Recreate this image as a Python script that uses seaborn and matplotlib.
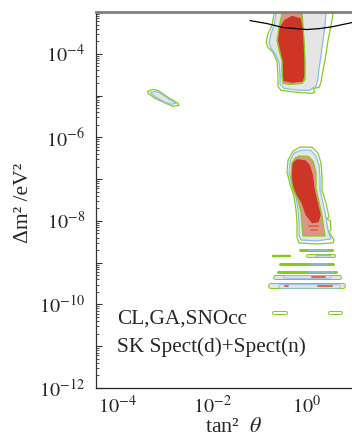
import numpy as np
import matplotlib
matplotlib.use("Agg")
import matplotlib.pyplot as plt
import seaborn as sns
from matplotlib.ticker import LogLocator, FuncFormatter, NullFormatter

# contour vertices: (log10 tan^2 theta, log10 dm^2/eV^2)
# LMA region (cut by the upper frame)
lma_green_out = [(-0.674, -2.85), (-0.695, -3.038), (-0.737, -3.325), (-0.821, -3.516),
                 (-0.863, -3.73), (-0.821, -3.85), (-0.716, -3.969), (-0.632, -4.184),
                 (-0.611, -4.518), (-0.611, -4.78), (-0.547, -4.876), (-0.189, -4.924),
                 (0.105, -4.947), (0.168, -4.924), (0.126, -4.828), (0.253, -4.804),
                 (0.295, -4.685), (0.316, -4.518), (0.379, -4.16), (0.442, -3.683),
                 (0.505, -3.325), (0.547, -3.038), (0.568, -2.85)]
lma_blue = [(-0.632, -2.85), (-0.653, -3.038), (-0.695, -3.325), (-0.758, -3.516),
            (-0.8, -3.73), (-0.758, -3.873), (-0.674, -3.993), (-0.589, -4.208),
            (-0.568, -4.518), (-0.568, -4.733), (-0.484, -4.828), (-0.147, -4.876),
            (0.063, -4.876), (0.105, -4.828), (0.189, -4.78), (0.232, -4.59),
            (0.253, -4.351), (0.295, -4.041), (0.337, -3.683), (0.379, -3.325),
            (0.4, -3.038), (0.421, -2.85)]
lma_green_in = [(-0.505, -2.85), (-0.526, -3.038), (-0.589, -3.372), (-0.632, -3.683),
                (-0.589, -3.921), (-0.526, -4.16), (-0.526, -4.518), (-0.505, -4.709),
                (-0.358, -4.733), (-0.105, -4.709), (-0.042, -4.614), (-0.042, -4.16),
                (-0.063, -3.683), (-0.084, -3.325), (-0.105, -3.038), (-0.105, -2.85)]
lma_red = [(-0.316, -3.09), (-0.48, -3.19), (-0.585, -3.39), (-0.61, -3.683),
           (-0.565, -3.921), (-0.515, -4.208), (-0.5, -4.65), (-0.316, -4.695),
           (-0.09, -4.665), (-0.05, -4.518), (-0.05, -3.921), (-0.07, -3.444),
           (-0.13, -3.15)]

# SMA island
sma_green_out = [(-3.347, -4.9), (-3.242, -4.852), (-3.137, -4.876), (-2.926, -5.043),
                 (-2.716, -5.186), (-2.695, -5.234), (-2.821, -5.258), (-2.926, -5.21),
                 (-3.2, -5.067), (-3.347, -4.947)]
sma_blue = [(-3.284, -4.924), (-3.2, -4.9), (-3.116, -4.924), (-2.926, -5.067),
            (-2.758, -5.186), (-2.842, -5.21), (-2.989, -5.162), (-3.179, -5.043),
            (-3.284, -4.947)]

# LOW region
low_green_out = [(-0.147, -6.236), (0.105, -6.236), (0.232, -6.379), (0.295, -6.618),
                 (0.316, -6.952), (0.316, -7.262), (0.4, -7.573), (0.463, -7.907),
                 (0.42, -7.95), (0.49, -8.0), (0.505, -8.217), (0.46, -8.26),
                 (0.568, -8.456), (0.547, -8.528), (0.211, -8.552), (-0.168, -8.528),
                 (-0.211, -8.384), (-0.211, -8.05), (-0.232, -7.74), (-0.274, -7.406),
                 (-0.358, -7.119), (-0.421, -6.833), (-0.4, -6.547), (-0.295, -6.332)]
low_blue = [(-0.126, -6.308), (0.084, -6.308), (0.189, -6.451), (0.253, -6.666),
            (0.274, -6.976), (0.274, -7.262), (0.337, -7.573), (0.4, -7.907),
            (0.442, -8.217), (0.505, -8.432), (0.189, -8.48), (-0.126, -8.456),
            (-0.168, -8.361), (-0.168, -8.05), (-0.189, -7.74), (-0.232, -7.43),
            (-0.316, -7.143), (-0.379, -6.857), (-0.358, -6.571), (-0.274, -6.379)]
low_green_in = [(-0.168, -6.451), (0.021, -6.451), (0.126, -6.57), (0.189, -6.833),
                (0.189, -7.214), (0.253, -7.549), (0.316, -7.883), (0.358, -8.217),
                (0.379, -8.361), (-0.084, -8.361), (-0.105, -8.098), (-0.126, -7.788),
                (-0.189, -7.501), (-0.295, -7.238), (-0.337, -6.928), (-0.316, -6.618),
                (-0.253, -6.499)]
low_red = [(-0.211, -6.52), (-0.03, -6.55), (0.06, -6.66), (0.125, -6.905),
           (0.165, -7.262), (0.225, -7.549), (0.29, -7.859), (0.245, -8.035),
           (0.105, -8.06), (-0.03, -7.859), (-0.115, -7.573), (-0.245, -7.334),
           (-0.31, -7.143), (-0.33, -6.833), (-0.31, -6.618)]

# VAC stripes
stripe_dm2 = [-8.69, -8.84, -8.84, -9.04, -9.23, -9.35, -9.55, -10.2, -10.2]
stripe_green_lo = [-0.147, -0.716, 0.021, -0.568, -0.61, -0.674, -0.758, -0.695, 0.484]
stripe_green_hi = [0.526, -0.358, 0.568, 0.547, 0.61, 0.674, 0.758, -0.44, 0.716]
stripe_blue_lo = [0.021, np.nan, 0.21, 0.063, 0.02, -0.46, -0.57, np.nan, np.nan]
stripe_blue_hi = [0.442, np.nan, 0.484, 0.442, 0.547, 0.48, 0.65, np.nan, np.nan]
red_dm2 = [-9.35, -9.55, -9.55, -8.217, -8.12]
red_lo = [0.105, -0.46, 0.23, 0.084, 0.042]
red_hi = [0.379, -0.40, 0.53, 0.211, 0.232]

# black limit curve near the top
curve_tan2 = [-1.2, -0.842, -0.505, 0.0, 0.274, 0.547, 0.947, 1.368]
curve_dm2 = [-3.205, -3.277, -3.372, -3.42, -3.396, -3.349, -3.253, -3.134]

text_lines = ["CL,GA,SNOcc", "SK Spect(d)+Spect(n)"]
text_dm2 = [-10.46, -11.15]

GREEN = "#84cc1c"
BLUE = "#8cbce8"
GRAY = "#e5e5e5"
SALMON = "#da9784"
RED = "#cf3527"
RED2 = "#e0694a"
PX = 0.72  # points per pixel at dpi 100

sns.set_theme(style="ticks")
plt.rcParams["font.family"] = ["Liberation Serif", "DejaVu Serif"]
plt.rcParams["mathtext.fontset"] = "stix"

fig = plt.figure(figsize=(3.52, 4.36), dpi=100)
ax = fig.add_axes([96 / 352, 48 / 436, 276 / 352, 376 / 436])
ax.set_xscale("log")
ax.set_yscale("log")


def to_xy(pts):
    a = np.array(pts)
    return 10 ** a[:, 0], 10 ** a[:, 1]


def outline(pts, color, lw=0.9):
    x, y = to_xy(pts + [pts[0]])
    sns.lineplot(x=x, y=y, sort=False, estimator=None, color=color, lw=lw, ax=ax)


def filled(pts, face, edge=None):
    x, y = to_xy(pts)
    ax.fill(x, y, facecolor=face, edgecolor="none")
    if edge is not None:
        outline(pts, edge)


for out, blue, inner, red in [(lma_green_out, lma_blue, lma_green_in, lma_red),
                              (low_green_out, low_blue, low_green_in, low_red)]:
    outline(out, GREEN)
    filled(blue, GRAY, BLUE)
    filled(inner, SALMON, GREEN)
    filled(red, RED)

outline(sma_green_out, GREEN)
filled(sma_blue, GRAY, BLUE)

stripe_px = [3, 2.5, 4, 3, 3, 5, 6, 4, 4]
hollow = [False, False, False, False, False, False, False, True, True]


def seg(y, lo, hi, color, w):
    ax.plot([10 ** lo, 10 ** hi], [10 ** y, 10 ** y], color=color, lw=w * PX,
            solid_capstyle="round")


for i, y in enumerate(stripe_dm2):
    h = stripe_px[i]
    seg(y, stripe_green_lo[i], stripe_green_hi[i], GREEN, h)
    if hollow[i]:
        seg(y, stripe_green_lo[i], stripe_green_hi[i], "white", h - 2)
        continue
    if h >= 4:
        seg(y, stripe_green_lo[i], stripe_green_hi[i], GRAY, h - 2)
    if not np.isnan(stripe_blue_lo[i]):
        seg(y, stripe_blue_lo[i], stripe_blue_hi[i], BLUE, h - 1.5)
        if h >= 4:
            seg(y, stripe_blue_lo[i], stripe_blue_hi[i], GRAY, h - 3.2)

for y, lo, hi in zip(red_dm2, red_lo, red_hi):
    seg(y, lo, hi, RED2, 2)

sns.lineplot(x=10 ** np.array(curve_tan2), y=10 ** np.array(curve_dm2), sort=False,
             estimator=None, color="black", lw=0.9, ax=ax)

for s, y in zip(text_lines, text_dm2):
    ax.text(1e-4, 10 ** y, s, fontsize=15.3, va="baseline", ha="left")

ax.set_xlim(10 ** -4.442, 10 ** 1.368)
ax.set_ylim(1e-12, 1e-3)

ax.yaxis.set_major_locator(LogLocator(base=10, numticks=30))
ax.yaxis.set_minor_locator(LogLocator(base=10, subs=np.arange(2, 10), numticks=30))
ax.xaxis.set_major_locator(LogLocator(base=10, numticks=30))
ax.xaxis.set_minor_formatter(NullFormatter())
ax.yaxis.set_minor_formatter(NullFormatter())


def even_only(v, pos):
    e = int(round(np.log10(v)))
    return f"$10^{{{e}}}$" if e % 2 == 0 else ""


ax.yaxis.set_major_formatter(FuncFormatter(even_only))
ax.xaxis.set_major_formatter(FuncFormatter(even_only))
ax.tick_params(axis="y", which="major", direction="in", length=4, width=0.8,
               labelsize=14.5, pad=8, color="#333333")
ax.tick_params(axis="y", which="minor", direction="in", length=2, width=0.6,
               color="#333333")
ax.tick_params(axis="x", which="both", length=0, labelsize=14.5, pad=6)

ax.spines["right"].set_visible(False)
ax.spines["top"].set_color("#808080")
ax.spines["top"].set_linewidth(2.0)
ax.spines["left"].set_color("#333333")
ax.spines["left"].set_linewidth(0.9)
ax.spines["bottom"].set_color("#222222")
ax.spines["bottom"].set_linewidth(0.9)

ax.set_xlabel(r"tan²  $\theta$", fontsize=15.8, labelpad=0)
ax.set_ylabel("")
fig.text(24 / 352, 1 - 203 / 436, "Δm² /eV²", rotation=90, fontsize=15.5,
         ha="center", va="center")

fig.savefig("out.png", dpi=100)
